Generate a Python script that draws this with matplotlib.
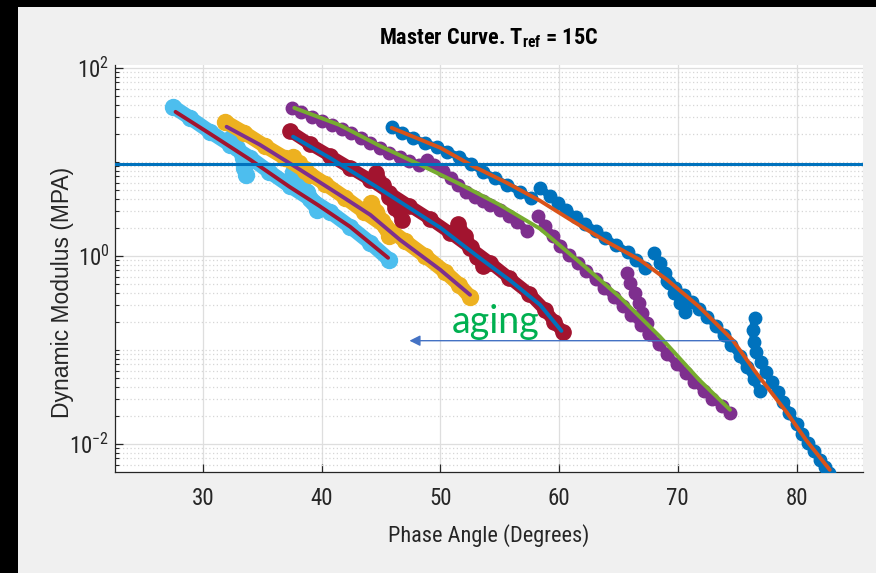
import numpy as np
import matplotlib
matplotlib.use("Agg")
import matplotlib.pyplot as plt
from matplotlib import font_manager as fm
from matplotlib.font_manager import FontProperties
from matplotlib.ticker import FixedLocator, NullFormatter, LogFormatterSciNotation
from matplotlib.patches import Rectangle


def pick_narrow_font():
    """Return (family, stretch) of the first installed narrow sans font."""
    candidates = [("Liberation Sans Narrow", "normal"), ("Arial Narrow", "normal"),
                  ("Roboto Condensed", "normal"), ("Noto Sans", "condensed"),
                  ("DejaVu Sans", "condensed"), ("Open Sans", "condensed")]
    for fam, st in candidates:
        try:
            path = fm.findfont(FontProperties(family=fam, stretch=st),
                               fallback_to_default=False)
        except ValueError:
            continue
        name = path.lower()
        if "narrow" in name or "cond" in name:
            return fam, st, True
    return "Liberation Sans", "normal", False


FAM, STRETCH, IS_NARROW = pick_narrow_font()
plt.rcParams["font.family"] = [FAM, "DejaVu Sans"]
plt.rcParams["font.stretch"] = STRETCH
plt.rcParams["axes.unicode_minus"] = False
FS = 16 if IS_NARROW else 14.5

# MATLAB default line colours
C_BLUE = "#0072BD"
C_ORANGE = "#D95319"
C_YELLOW = "#EDB120"
C_PURPLE = "#7E2F8E"
C_GREEN = "#77AC30"
C_LBLUE = "#4DBEEE"
C_RED = "#A2142F"
TEXT = "#262626"

# ---- measured data: phase angle (deg) and dynamic modulus (MPa) ----
# most aged binder (light blue) - three shifted frequency sweeps
lb1_x = [27.5, 28.9, 30.6, 32.3, 34.0, 35.6, 37.3, 39.0, 40.7, 42.4, 44.1, 45.7]
lb1_y = [38.5, 29.4, 20.9, 15.2, 11.0, 7.83, 5.56, 4.04, 2.94, 2.04, 1.37, 0.906]
lb2_x = [32.4, 32.9, 33.4, 33.5, 33.6]
lb2_y = [18.0, 14.1, 11.0, 8.63, 7.27]
lb3_x = [37.6, 38.2, 38.8, 39.3, 39.6]
lb3_y = [7.83, 6.13, 4.80, 3.75, 3.09]

# yellow
ye1_x = [31.9, 33.5, 35.2, 36.9, 38.6, 40.3, 42.0, 43.6, 45.3, 47.0, 48.7, 50.4, 51.6, 52.5]
ye1_y = [26.6, 20.3, 14.8, 11.0, 8.02, 5.84, 4.14, 2.94, 2.08, 1.44, 1.00, 0.675, 0.491, 0.366]
ye2_x = [37.6, 38.1, 38.6, 39.0]
ye2_y = [11.3, 9.76, 8.43, 7.27]
ye3_x = [44.2, 44.6, 45.1, 45.5, 45.7]
ye3_y = [3.66, 2.94, 2.36, 1.94, 1.63]

# dark red
rd1_x = [37.3, 39.0, 40.7, 42.4, 44.1, 45.7, 47.4, 49.1, 50.8, 52.5, 54.2, 55.8, 57.5, 58.8, 59.6, 60.3]
rd1_y = [21.4, 15.5, 11.6, 8.63, 6.43, 4.68, 3.40, 2.48, 1.76, 1.22, 0.843, 0.583, 0.394, 0.267, 0.199, 0.155]
rd2_x = [44.6, 45.2, 45.7, 46.2, 46.8]
rd2_y = [7.64, 5.69, 4.24, 3.24, 2.42]
rd3_x = [51.5, 52.1, 52.6, 53.1, 53.6]
rd3_y = [2.19, 1.63, 1.25, 0.976, 0.783]

# purple
pu1_x = [37.5, 38.3, 39.2, 40.0, 40.9, 41.7, 42.5, 43.3, 44.1, 44.9, 45.7, 46.6, 47.4, 48.2]
pu1_y = [37.5, 34.0, 30.1, 27.3, 24.7, 22.4, 20.3, 18.0, 15.9, 14.1, 12.5, 11.3, 10.2, 9.29]
pu2_x = [48.9, 49.5, 50.2, 50.9, 51.5, 52.2, 52.9, 53.6, 54.2, 55.0, 55.8, 56.5, 57.3]
pu2_y = [10.5, 9.29, 8.02, 6.76, 5.69, 4.80, 4.24, 3.85, 3.49, 3.09, 2.66, 2.30, 1.85]
pu3_x = [58.2, 58.8, 59.5, 60.1, 60.8, 61.6, 62.3, 63.1, 63.8, 64.6, 65.4, 66.1,
         66.9, 67.6, 68.4, 69.1, 69.9, 70.7, 71.4, 72.2, 72.9, 73.7, 74.4]
pu3_y = [2.66, 2.08, 1.63, 1.28, 1.02, 0.843, 0.692, 0.569, 0.457, 0.366, 0.294, 0.236,
         0.185, 0.148, 0.116, 0.0906, 0.0710, 0.0569, 0.0457, 0.0366, 0.0301, 0.0254, 0.0214]
pu4_x = [65.7, 66.0, 66.4, 66.7, 67.0, 67.4, 67.6]
pu4_y = [0.659, 0.516, 0.404, 0.316, 0.248, 0.194, 0.148]

# blue (unaged)
bl1_x = [45.9, 46.8, 47.7, 48.7, 49.7, 50.6, 51.6, 52.6, 53.6, 54.6, 55.6, 56.7, 57.6]
bl1_y = [23.6, 20.3, 18.0, 15.9, 14.4, 12.8, 11.3, 9.52, 7.83, 6.76, 5.69, 4.80, 4.14]
bl2_x = [58.4, 59.2, 59.9, 60.6, 61.4, 62.2, 63.1, 63.9, 64.8, 65.8, 66.5, 67.2]
bl2_y = [5.29, 4.35, 3.66, 3.09, 2.60, 2.19, 1.85, 1.55, 1.31, 1.10, 0.906, 0.745]
bl3_x = [68.0, 68.5, 68.9, 69.3, 69.7, 70.2, 70.6]
bl3_y = [1.08, 0.843, 0.659, 0.516, 0.404, 0.316, 0.254]
bl4_x = [69.1, 69.8, 70.5, 71.2, 71.8, 72.5, 73.2, 73.9, 74.5, 75.2, 75.8, 76.4, 76.9]
bl4_y = [0.542, 0.457, 0.385, 0.324, 0.273, 0.224, 0.180, 0.144, 0.113, 0.0863, 0.0659, 0.0491, 0.0366]
bl5_x = [76.5, 76.3, 76.4, 76.6, 77.0, 77.4, 77.9, 78.4, 78.9, 79.4, 80.0, 80.5,
         81.0, 81.5, 82.0, 82.4, 82.7]
bl5_y = [0.219, 0.163, 0.122, 0.0952, 0.0745, 0.0583, 0.0457, 0.0357, 0.0280, 0.0214, 0.0163,
         0.0128, 0.0103, 0.00843, 0.00676, 0.00569, 0.00491]

# ---- fitted master curves ----
fit_lb_x = [27.7, 30.6, 34.0, 37.3, 39.8, 42.4, 45.6]
fit_lb_y = [34.0, 19.9, 10.5, 5.42, 3.40, 2.04, 0.952]
fit_ye_x = [32.0, 34.8, 38.2, 41.5, 44.1, 46.6, 50.0, 52.5]
fit_ye_y = [23.6, 15.2, 8.22, 4.46, 2.73, 1.48, 0.710, 0.385]
fit_rd_x = [37.6, 40.7, 44.9, 50.0, 53.3, 55.8, 58.4, 60.2]
fit_rd_y = [18.5, 11.0, 5.16, 1.99, 0.952, 0.556, 0.301, 0.159]
fit_pu_x = [37.7, 41.5, 44.9, 48.3, 51.6, 55.0, 58.4, 61.7, 65.1, 68.5, 71.8, 74.4]
fit_pu_y = [37.5, 24.7, 14.8, 9.29, 5.84, 3.49, 1.94, 0.863, 0.366, 0.138, 0.0480, 0.0230]
fit_bl_x = [45.9, 50.0, 52.7, 55.6, 58.4, 61.1, 63.9, 66.8, 69.1, 71.8, 74.6, 76.6, 79.2, 80.8, 82.8]
fit_bl_y = [23.0, 14.1, 9.07, 5.98, 3.85, 2.36, 1.44, 0.906, 0.556, 0.287, 0.128,
            0.0569, 0.0214, 0.0110, 0.00529]

threshold = 9.4          # horizontal reference modulus (MPa)
arrow_x = (74.8, 47.4)   # aging arrow: tail -> head (deg)
arrow_y = 0.125
aging_x, aging_y = 51.0, 0.152

x_ticks = [30, 40, 50, 60, 70, 80]
y_ticks = [1e-2, 1e0, 1e2]

# ---- figure ----
fig = plt.figure(figsize=(8.76, 5.73), dpi=100, facecolor="#f0f0f0")
fig.patches.append(Rectangle((0, 0), 18 / 876, 1, transform=fig.transFigure,
                             facecolor="black", edgecolor="none", zorder=-1))
fig.patches.append(Rectangle((0, 1 - 7 / 573), 1, 7 / 573, transform=fig.transFigure,
                             facecolor="black", edgecolor="none", zorder=-1))

ax = fig.add_axes([115 / 876, 1 - 472 / 573, 748 / 876, 407 / 573])
ax.set_facecolor("white")
ax.set_yscale("log")
ax.set_xlim(22.6, 85.6)
ax.set_ylim(10 ** -2.30, 10 ** 2.03)


def band(x, y, color, lw=10.5, ms=11.5):
    ax.plot(x, y, "-", color=color, lw=lw, solid_capstyle="round",
            marker="o", ms=ms, mfc=color, mec=color, zorder=3)


def dots(x, y, color):
    ax.plot(x, y, "-", color=color, lw=5.5, solid_capstyle="round",
            marker="o", ms=9.0, mfc=color, mec=color, zorder=3)


for xs, ys in [(lb1_x, lb1_y), (lb2_x, lb2_y), (lb3_x, lb3_y)]:
    band(xs, ys, C_LBLUE)
for xs, ys in [(ye1_x, ye1_y), (ye2_x, ye2_y), (ye3_x, ye3_y)]:
    band(xs, ys, C_YELLOW)
for xs, ys in [(rd1_x, rd1_y), (rd2_x, rd2_y), (rd3_x, rd3_y)]:
    band(xs, ys, C_RED, lw=9.0, ms=11.0)
for xs, ys in [(pu1_x, pu1_y), (pu2_x, pu2_y), (pu3_x, pu3_y), (pu4_x, pu4_y)]:
    dots(xs, ys, C_PURPLE)
for xs, ys in [(bl1_x, bl1_y), (bl2_x, bl2_y), (bl3_x, bl3_y), (bl4_x, bl4_y), (bl5_x, bl5_y)]:
    dots(xs, ys, C_BLUE)

for xs, ys, c in [(fit_lb_x, fit_lb_y, C_RED), (fit_ye_x, fit_ye_y, C_PURPLE),
                  (fit_rd_x, fit_rd_y, C_BLUE), (fit_pu_x, fit_pu_y, C_GREEN),
                  (fit_bl_x, fit_bl_y, C_ORANGE)]:
    ax.plot(xs, ys, "-", color=c, lw=2.8, solid_capstyle="round", zorder=4)

ax.axhline(threshold, color=C_BLUE, lw=2.2, zorder=5)

# aging annotation
ax.annotate("", xy=(arrow_x[1], arrow_y), xytext=(arrow_x[0], arrow_y),
            arrowprops=dict(arrowstyle="-|>", color="#4472C4", lw=1.0,
                            mutation_scale=16, shrinkA=0, shrinkB=0), zorder=6)
ax.text(aging_x, aging_y, "aging", color="#00B050", fontsize=27,
        family=["Lato", "DejaVu Sans"], stretch="normal",
        ha="left", va="baseline", zorder=6)

# axes styling
ax.xaxis.set_major_locator(FixedLocator(x_ticks))
ax.yaxis.set_major_locator(FixedLocator(y_ticks))
ax.yaxis.set_major_formatter(LogFormatterSciNotation())
minor = [m * 10.0 ** e for e in range(-3, 3) for m in range(1, 10)
         if not (m == 1 and e in (-2, 0, 2))]
ax.yaxis.set_minor_locator(FixedLocator(minor))
ax.yaxis.set_minor_formatter(NullFormatter())
ax.xaxis.set_minor_locator(FixedLocator([]))

ax.grid(True, which="major", axis="both", color="#dedede", lw=0.9, ls="-")
ax.grid(True, which="minor", axis="y", color="#d6d6d6", lw=0.9, ls=(0, (1, 2)))
ax.set_axisbelow(True)

for s in ("top", "right"):
    ax.spines[s].set_visible(False)
for s in ("left", "bottom"):
    ax.spines[s].set_color(TEXT)
    ax.spines[s].set_linewidth(0.9)

ax.tick_params(which="major", direction="in", length=5.8, width=0.9, color=TEXT,
               labelcolor=TEXT, labelsize=FS + 0.5)
ax.tick_params(which="minor", direction="in", length=2.9, width=0.8, color=TEXT)
ax.tick_params(axis="x", pad=11)
ax.tick_params(axis="y", pad=4)
ax.tick_params(top=False, right=False)

ax.set_xlabel("Phase Angle (Degrees)", fontsize=FS, color=TEXT, va="center")
ax.xaxis.set_label_coords(0.5, -0.155)
ax.set_ylabel("Dynamic Modulus (MPA)", fontsize=16.5, color=TEXT,
              family=["Liberation Sans", "DejaVu Sans"], stretch="normal", va="center")
ax.yaxis.set_label_coords(-0.07, 0.44)

ax.set_title(r"Master Curve. T$_{\mathdefault{ref}}$ = 15C", fontsize=FS,
             fontweight="bold", color="black", pad=15)

fig.savefig("out.png", dpi=100, facecolor=fig.get_facecolor())
